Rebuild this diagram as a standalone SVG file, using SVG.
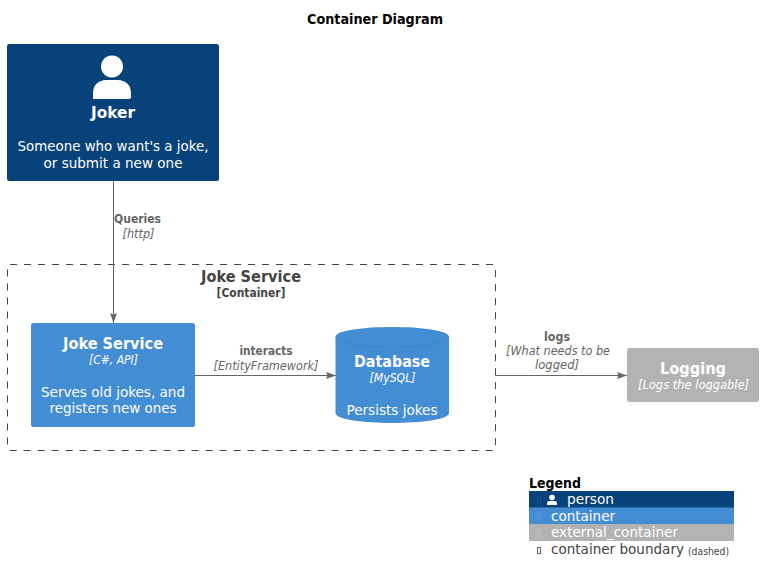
<svg xmlns="http://www.w3.org/2000/svg" width="763" height="582" viewBox="0 0 763 582">
<style>
text{font-family:"DejaVu Sans",sans-serif;text-anchor:middle}
.w{fill:#fff}.b{font-weight:700}.i{font-style:italic}
.t{font-size:14px}.n{font-size:16px;font-weight:700}.s{font-size:12px;font-style:italic}
.lb{fill:#666;font-size:12px;font-weight:700}.li{fill:#666;font-size:12px;font-style:italic}
.c{stroke:#666;stroke-width:1;fill:none;marker-end:url(#a)}
.l{font-size:14px;text-anchor:start}
.tofu{fill:none;stroke-width:1}
</style>
<defs><marker id="a" markerUnits="userSpaceOnUse" markerWidth="10" markerHeight="8" refX="10" refY="4" orient="auto"><path d="M0 .5L10 4L0 7.500L1.500 4Z" fill="#666"/></marker></defs>
<rect width="763" height="582" fill="#fff"/>
<text x="375" y="24" font-size="14" font-weight="700" textLength="136" lengthAdjust="spacingAndGlyphs">Container Diagram</text>
<g id="boundary">
<rect x="7.5" y="264.5" width="488" height="186" rx="2.5" fill="none" stroke="#444" stroke-dasharray="7 7"/>
<text x="251" y="282" font-size="16" font-weight="700" fill="#444" textLength="100" lengthAdjust="spacingAndGlyphs">Joke Service</text>
<text x="251" y="297" font-size="12" font-weight="700" fill="#444" textLength="69" lengthAdjust="spacingAndGlyphs">[Container]</text>
</g>
<g id="connectors">
<path class="c" d="M113.5 181V323"/>
<path class="c" d="M195 375.5H336"/>
<path class="c" d="M495.5 375.5H627"/>
<text class="lb" x="137.500" y="223" textLength="47" lengthAdjust="spacingAndGlyphs">Queries</text>
<text class="li" x="138.500" y="238" textLength="32" lengthAdjust="spacingAndGlyphs">[http]</text>
<text class="lb" x="266" y="355" textLength="53" lengthAdjust="spacingAndGlyphs">interacts</text>
<text class="li" x="266" y="370" textLength="105" lengthAdjust="spacingAndGlyphs">[EntityFramework]</text>
<text class="lb" x="557" y="341" textLength="26" lengthAdjust="spacingAndGlyphs">logs</text>
<text class="li" x="558" y="355" textLength="104" lengthAdjust="spacingAndGlyphs">[What needs to be</text>
<text class="li" x="557" y="369" textLength="44" lengthAdjust="spacingAndGlyphs">logged]</text>
</g>
<g id="joker">
<rect x="7" y="44" width="212" height="137" rx="2.500" fill="#08427b"/>
<circle cx="112" cy="66.500" r="11" fill="#fff"/>
<path d="M93 99V93C93 85 99 80 106 80H118C125 80 131 85 131 93V97Q131 99 129 99Z" fill="#fff"/>
<text class="w" x="113" y="118" font-size="16" font-weight="700" textLength="44" lengthAdjust="spacingAndGlyphs">Joker</text>
<text class="w t" x="113" y="151" textLength="191" lengthAdjust="spacingAndGlyphs">Someone who want's a joke,</text>
<text class="w t" x="113" y="168" textLength="139" lengthAdjust="spacingAndGlyphs">or submit a new one</text>
</g>
<g id="joke-service">
<rect x="31" y="323" width="164" height="104" rx="2.500" fill="#438dd5"/>
<text class="w n" x="113" y="349" textLength="100" lengthAdjust="spacingAndGlyphs">Joke Service</text>
<text class="w s" x="113.500" y="364" textLength="49" lengthAdjust="spacingAndGlyphs">[C#, API]</text>
<text class="w t" x="113" y="397" textLength="144" lengthAdjust="spacingAndGlyphs">Serves old jokes, and</text>
<text class="w t" x="113" y="413" textLength="127" lengthAdjust="spacingAndGlyphs">registers new ones</text>
</g>
<g id="database">
<path d="M335.500 337C335.500 323.700 449 323.700 449 337V413C449 426.300 335.500 426.300 335.500 413Z" fill="#438dd5"/>
<path d="M335.500 337C335.500 350.300 449 350.300 449 337" fill="none" stroke="#3c7fc0" stroke-width=".5"/>
<text class="w n" x="392" y="367" textLength="76" lengthAdjust="spacingAndGlyphs">Database</text>
<text class="w s" x="392.500" y="382" textLength="46" lengthAdjust="spacingAndGlyphs">[MySQL]</text>
<text class="w t" x="392" y="415" textLength="91" lengthAdjust="spacingAndGlyphs">Persists jokes</text>
</g>
<g id="logging">
<rect x="627" y="348" width="132" height="54" rx="2.500" fill="#b3b3b3"/>
<text class="w n" x="693" y="374" textLength="66" lengthAdjust="spacingAndGlyphs">Logging</text>
<text class="w s" x="693.500" y="389" textLength="111" lengthAdjust="spacingAndGlyphs">[Logs the loggable]</text>
</g>
<g id="legend">
<text x="529" y="488" font-size="14" font-weight="700" style="text-anchor:start" textLength="52" lengthAdjust="spacingAndGlyphs">Legend</text>
<rect x="529" y="491" width="205" height="17" fill="#08427b"/>
<rect x="529" y="507.500" width="205" height="17" fill="#438dd5"/>
<rect x="529" y="524" width="205" height="17" fill="#b3b3b3"/>
<rect class="tofu" x="537.500" y="496.500" width="3" height="8" stroke="#134c84"/>
<rect class="tofu" x="537.500" y="512.500" width="3" height="8" stroke="#4f94d8"/>
<rect class="tofu" x="537.500" y="529.500" width="3" height="8" stroke="#bcbcbc"/>
<rect class="tofu" x="537.500" y="547.500" width="3" height="6" stroke="#666"/>
<circle cx="552" cy="497.500" r="2.800" fill="#fff"/>
<path d="M547 505V503.500C547 501.500 548.500 501 550 501H554C555.500 501 557 501.500 557 503.500V505Z" fill="#fff"/>
<text class="w l" x="567" y="504" textLength="47" lengthAdjust="spacingAndGlyphs">person</text>
<text class="w l" x="551" y="521" textLength="64" lengthAdjust="spacingAndGlyphs">container</text>
<text class="w l" x="551" y="537" textLength="127" lengthAdjust="spacingAndGlyphs">external_container</text>
<text class="l" x="551" y="554" fill="#444" textLength="133" lengthAdjust="spacingAndGlyphs">container boundary</text>
<text x="688" y="555" font-size="10" fill="#444" style="text-anchor:start" textLength="41" lengthAdjust="spacingAndGlyphs">(dashed)</text>
</g>
</svg>
